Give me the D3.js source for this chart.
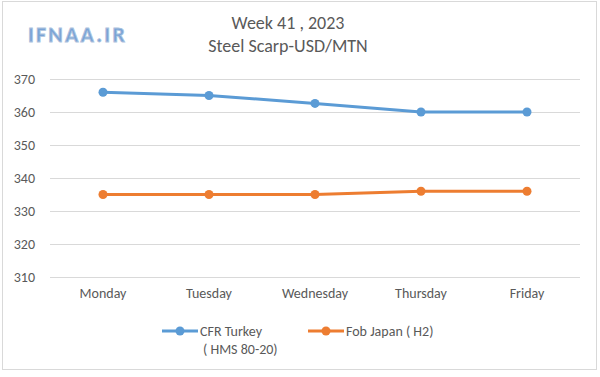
<!DOCTYPE html>
<html>
<head>
<meta charset="utf-8">
<script src="https://cdn.jsdelivr.net/npm/d3@7"></script>
<style>
body { margin: 0; background: #fff; }
text { font-family: Carlito, Calibri, "Liberation Sans", "DejaVu Sans", sans-serif; }
</style>
</head>
<body>
<div id="chart"></div>
<script>
let width = 600
let height = 377

let days = ['Monday', 'Tuesday', 'Wednesday', 'Thursday', 'Friday']
let cfrTurkey = [366, 365, 362.6, 360, 360]
let fobJapan = [335, 335, 335, 336, 336]
let yTicks = [310, 320, 330, 340, 350, 360, 370]

let seriesNames = [['CFR Turkey', '( HMS 80-20)'], ['Fob Japan ( H2)']]
let colors = ['#5b9bd5', '#ed7d31']

const svg = d3.select('#chart')
	.append('svg')
	.attr('width', width)
	.attr('height', height)

// frame
svg.append('rect')
	.attr('x', 2.5).attr('y', 1.5)
	.attr('width', 594).attr('height', 368)
	.attr('fill', 'white')
	.attr('stroke', '#d9d9d9')

let x = d3.scaleBand()
	.domain(days)
	.range([50, 580])

let y = d3.scaleLinear()
	.domain([310, 370])
	.range([277, 79])

// grid
svg.append('g')
	.attr('transform', 'translate(50,0)')
	.call(d3.axisLeft(y).tickValues(yTicks).tickSize(-530).tickPadding(15))
	.call(g => g.select('.domain').remove())
	.call(g => g.selectAll('line').attr('stroke', '#d9d9d9'))
	.call(g => g.selectAll('text').attr('fill', '#595959').attr('font-size', 14))

svg.append('g')
	.attr('transform', 'translate(0,277)')
	.call(d3.axisBottom(x).tickSize(0).tickPadding(11))
	.call(g => g.select('.domain').remove())
	.call(g => g.selectAll('text').attr('fill', '#595959').attr('font-size', 14))

let line = d3.line()
	.x((d, i) => x(days[i]) + x.bandwidth() / 2)
	.y(d => y(d))

let allSeries = [cfrTurkey, fobJapan]

allSeries.forEach((s, k) => {
	svg.append('path')
		.datum(s)
		.attr('d', line)
		.attr('fill', 'none')
		.attr('stroke', colors[k])
		.attr('stroke-width', 3)
	svg.selectAll('.dot' + k)
		.data(s)
		.enter()
		.append('circle')
		.attr('cx', (d, i) => x(days[i]) + x.bandwidth() / 2)
		.attr('cy', d => y(d))
		.attr('r', 4.5)
		.attr('fill', colors[k])
})

// titles
svg.append('text')
	.attr('x', 288).attr('y', 29)
	.attr('text-anchor', 'middle')
	.attr('font-size', 18)
	.attr('fill', '#595959')
	.text('Week 41 , 2023')

svg.append('text')
	.attr('x', 288).attr('y', 52)
	.attr('text-anchor', 'middle')
	.attr('font-size', 18)
	.attr('fill', '#595959')
	.text('Steel Scarp-USD/MTN')

svg.append('text')
	.attr('x', 28).attr('y', 42)
	.attr('font-size', 22)
	.attr('font-weight', 'bold')
	.attr('letter-spacing', 2.2)
	.attr('fill', '#7aa3d6')
	.attr('stroke', '#aec3de')
	.attr('stroke-width', 0.8)
	.text('IFNAA.IR')

// legend
let legendX = [162, 308]
seriesNames.forEach((names, k) => {
	let g = svg.append('g').attr('transform', `translate(${legendX[k]},331)`)
	g.append('line')
		.attr('x1', 0).attr('x2', 36)
		.attr('stroke', colors[k])
		.attr('stroke-width', 3)
	g.append('circle')
		.attr('cx', 18).attr('r', 4.5)
		.attr('fill', colors[k])
	g.append('text')
		.attr('x', 38).attr('y', 5)
		.attr('font-size', 14)
		.attr('fill', '#595959')
		.text(names[0])
	if (names[1]) {
		g.append('text')
			.attr('x', 41).attr('y', 23)
			.attr('font-size', 14)
			.attr('fill', '#595959')
			.text(names[1])
	}
})
</script>
</body>
</html>
